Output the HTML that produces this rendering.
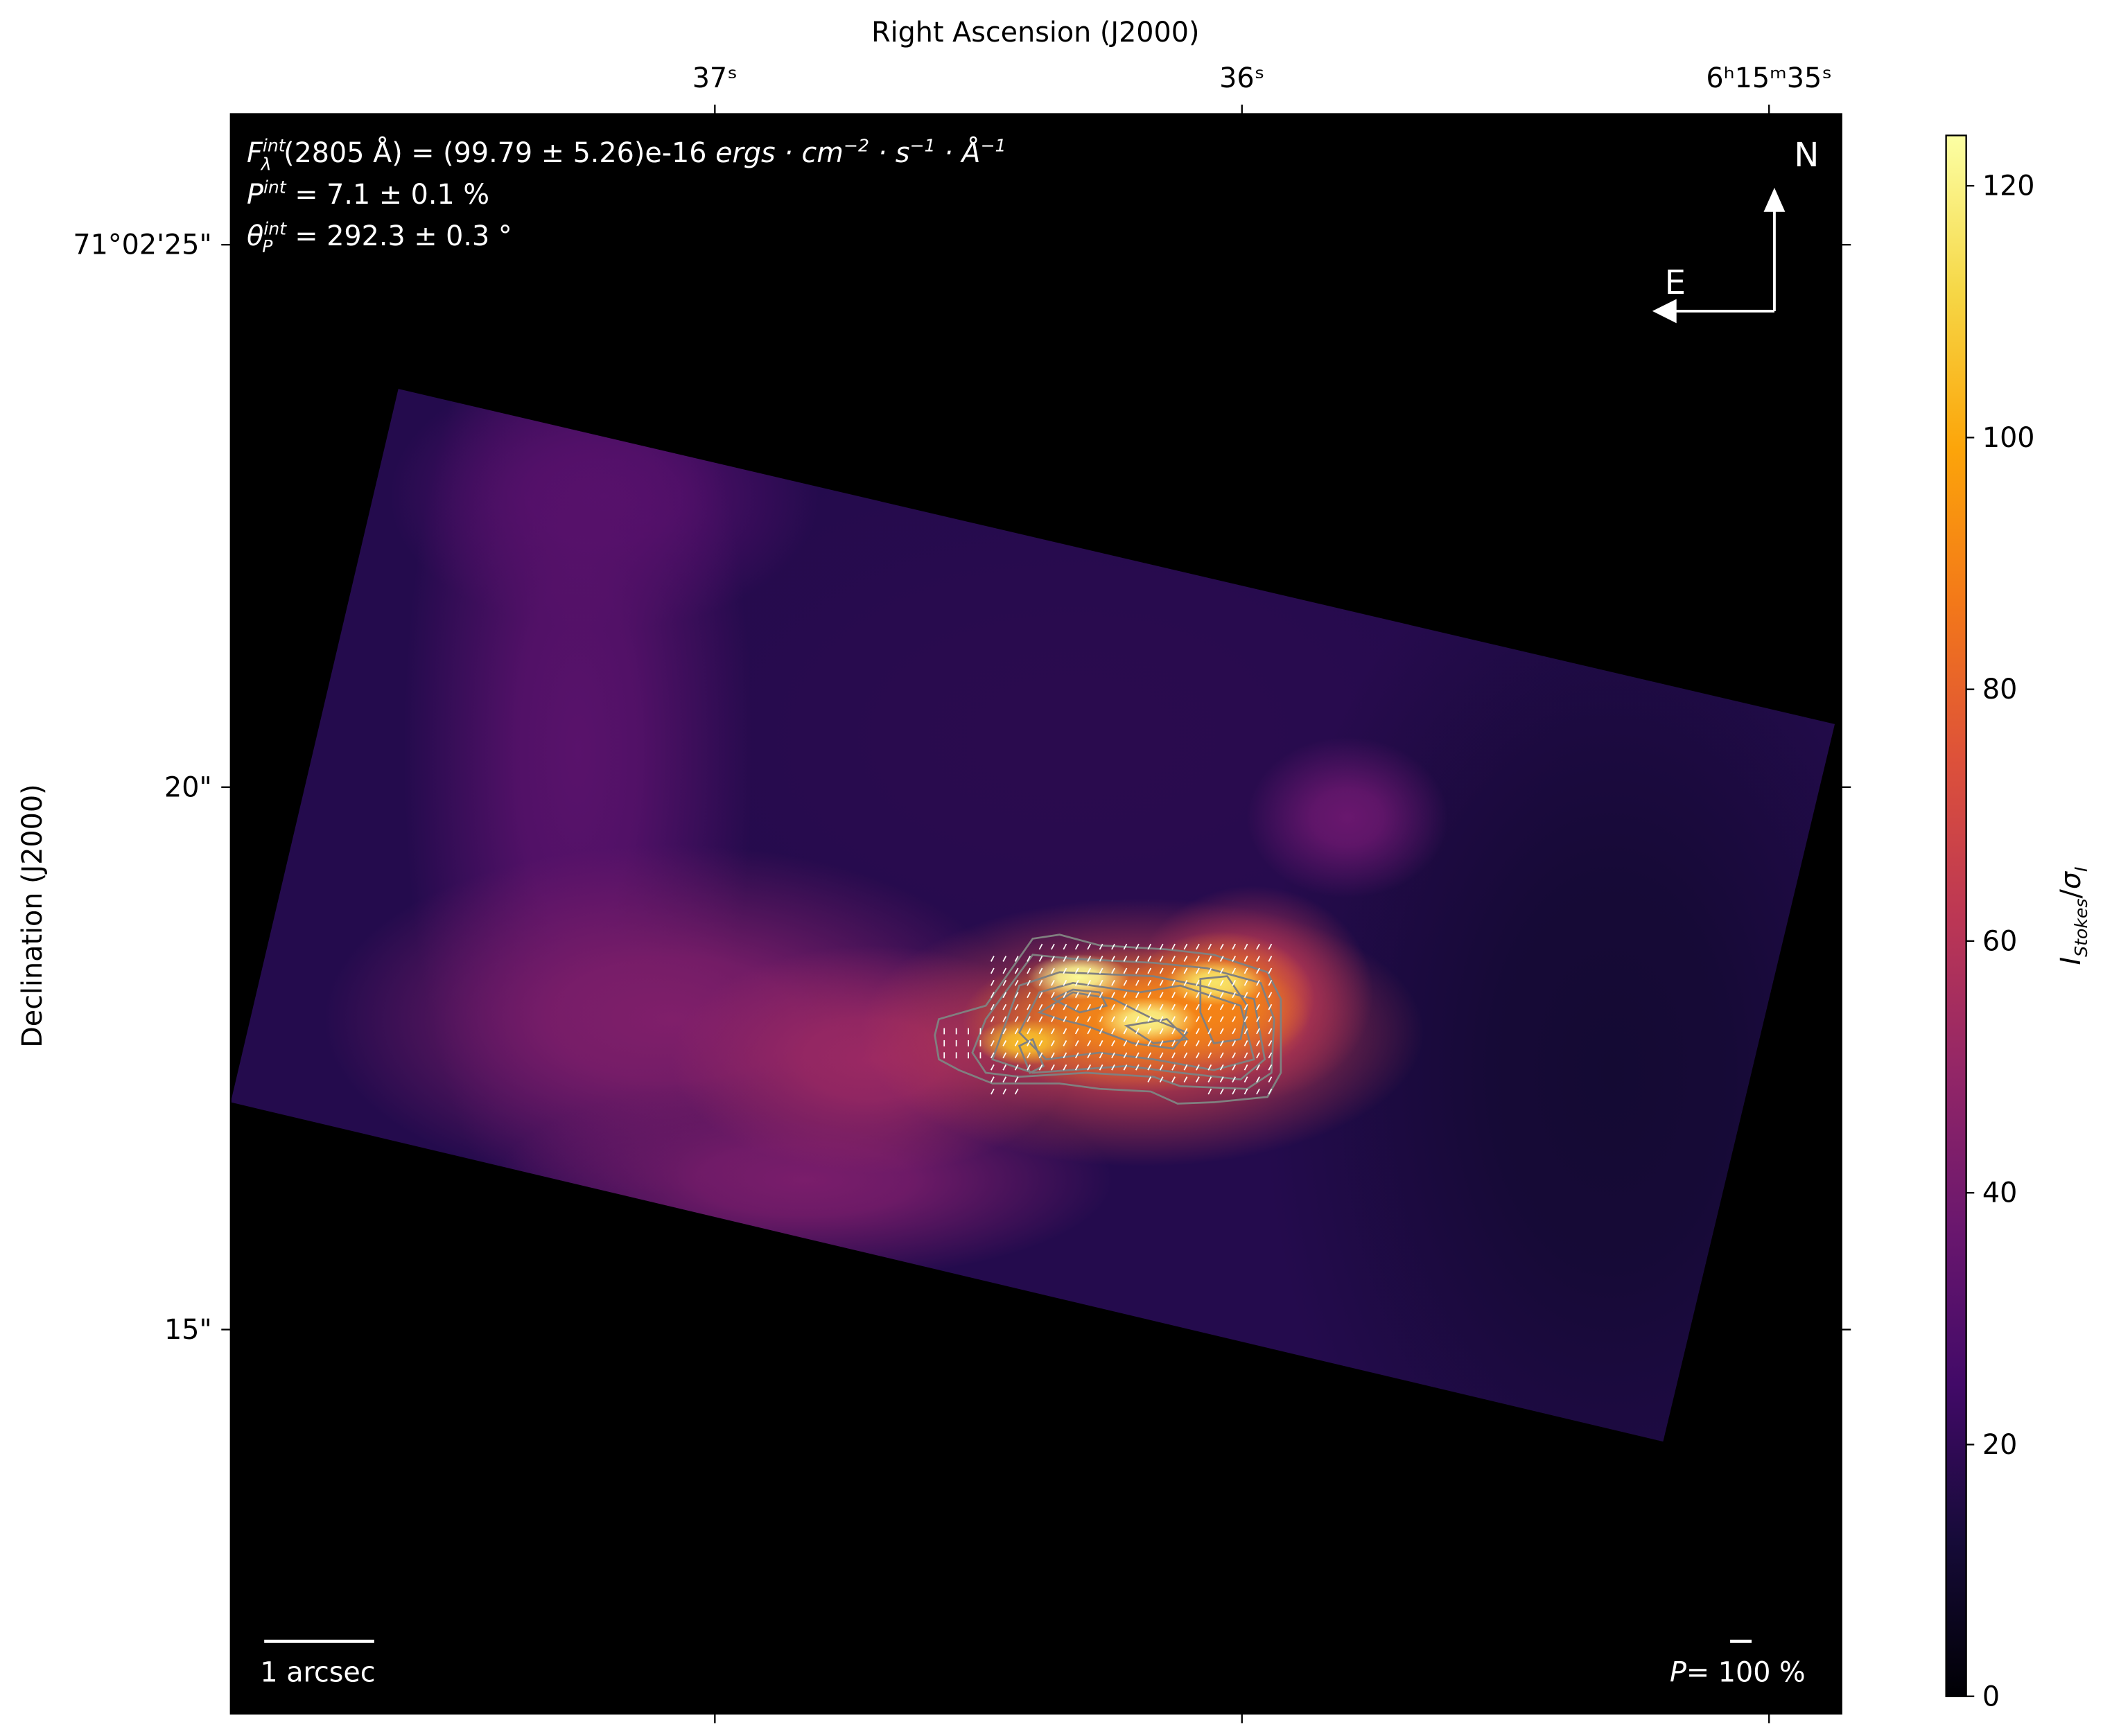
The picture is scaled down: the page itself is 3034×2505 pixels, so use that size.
<!DOCTYPE html>
<html><head><meta charset="utf-8"><style>
html,body{margin:0;padding:0;background:#fff;}
svg{display:block;}
text{font-family:"DejaVu Sans","Liberation Sans",sans-serif;}
</style></head><body>
<svg id="chart" width="3034" height="2505" viewBox="0 0 1568 1294.6" xmlns="http://www.w3.org/2000/svg">
<defs id="defs">
<linearGradient id="cmap" x1="0" y1="1" x2="0" y2="0">
<stop offset="0" stop-color="#000004"/><stop offset="0.1" stop-color="#160b39"/><stop offset="0.2" stop-color="#420a68"/><stop offset="0.3" stop-color="#6a176e"/><stop offset="0.4" stop-color="#932667"/><stop offset="0.5" stop-color="#bc3754"/><stop offset="0.6" stop-color="#dd513a"/><stop offset="0.7" stop-color="#f37819"/><stop offset="0.8" stop-color="#fca50a"/><stop offset="0.9" stop-color="#f6d746"/><stop offset="1" stop-color="#fcffa4"/>
</linearGradient>
<clipPath id="axclip"><rect x="172" y="85" width="1201" height="1193"/></clipPath>
<clipPath id="fov"><polygon points="297,290 1368,540 1240,1075 172,822"/></clipPath>
</defs>
<rect x="172" y="85" width="1201" height="1193" fill="#000000"/>
<g clip-path="url(#axclip)">
<polygon points="297,290 1368,540 1240,1075 172,822" fill="#240b4d"/>
<g id="blobs" clip-path="url(#fov)"></g>
<g id="contours" fill="none" stroke="#808080" stroke-width="1.4"></g>
<g id="vectors" stroke="#ffffff" stroke-width="0.9"></g>
</g>
<rect x="172" y="85" width="1201" height="1193" fill="none" stroke="#000" stroke-width="1.2"/>
<g id="ticks" stroke="#000" stroke-width="1.2"></g>
<g id="ticklabels" font-size="20.5" fill="#000"></g>
<text x="772" y="31" font-size="20.5" text-anchor="middle">Right Ascension (J2000)</text>
<text transform="translate(31,683) rotate(-90)" font-size="20.5" text-anchor="middle">Declination (J2000)</text>
<g fill="#fff" font-size="20.5">
<text x="184" y="121"><tspan font-style="italic">F</tspan><tspan font-size="13" dy="-8" font-style="italic">int</tspan><tspan font-size="13" dx="-18" dy="14" font-style="italic">λ</tspan><tspan dy="-6" dx="9">(2805 Å) = (99.79 ± 5.26)e-16 </tspan><tspan font-style="italic">ergs · cm</tspan><tspan font-size="13" dy="-8" font-style="italic">−2</tspan><tspan dy="8" font-style="italic"> · s</tspan><tspan font-size="13" dy="-8" font-style="italic">−1</tspan><tspan dy="8" font-style="italic"> · Å</tspan><tspan font-size="13" dy="-8" font-style="italic">−1</tspan></text>
<text x="184" y="152"><tspan font-style="italic">P</tspan><tspan font-size="13" dy="-8" font-style="italic">int</tspan><tspan dy="8"> = 7.1 ± 0.1 %</tspan></text>
<text x="184" y="183"><tspan font-style="italic">θ</tspan><tspan font-size="13" dy="-8" font-style="italic">int</tspan><tspan font-size="13" dx="-18" dy="13" font-style="italic">P</tspan><tspan dy="-5" dx="10"> = 292.3 ± 0.3 °</tspan></text>
<text x="1347" y="124" font-size="25" text-anchor="middle">N</text>
<text x="1249" y="219" font-size="25" text-anchor="middle">E</text>
<text x="194" y="1254">1 arcsec</text>
<text x="1245" y="1254"><tspan font-style="italic">P</tspan>= 100 %</text>
</g>
<g stroke="#fff" stroke-width="2" fill="#fff">
<line x1="1323" y1="232" x2="1323" y2="155"/><polygon points="1323,140 1315,158 1331,158" stroke="none"/>
<line x1="1323" y1="232" x2="1248" y2="232"/><polygon points="1232,232 1250,223 1250,241" stroke="none"/>
</g>
<line x1="197" y1="1224" x2="279" y2="1224" stroke="#fff" stroke-width="2.5"/>
<line x1="1290" y1="1224" x2="1306" y2="1224" stroke="#fff" stroke-width="2.5"/>
<rect x="1451" y="101" width="15" height="1164" fill="url(#cmap)" stroke="#000" stroke-width="1.2"/>
<g id="cbticks" font-size="20.5"></g>
<text transform="translate(1551,683) rotate(-90)" font-size="20.5" text-anchor="middle"><tspan font-style="italic">I</tspan><tspan font-size="13" dy="5" font-style="italic">Stokes</tspan><tspan dy="-5">/</tspan><tspan font-style="italic">σ</tspan><tspan font-size="13" dy="5" font-style="italic">I</tspan></text>
</svg>
<script>
const raTickLabels=["37ˢ","36ˢ","6ʰ15ᵐ35ˢ"];
const raTickValues=[37,36,35];
const decTickLabels=["71°02'25\"","20\"","15\""];
const decTickValues=[25,20,15];
const cbTickValues=[0,20,40,60,80,100,120];
const vmax=124;
// emission blobs: RA seconds, Dec arcsec, intensity, radii
const blobX=[36.32,35.30,37.21,37.26,37.08,36.83,36.70,35.80,36.19,35.98,36.20,36.04];
const blobY=[20.46,17.37,22.68,20.33,17.86,16.38,17.49,19.72,17.74,18.10,17.86,18.05];
const blobV=[18,11,30,32,44,42,52,37,66,62,92,90];
const blobRX=[380,260,160,130,260,230,150,75,210,90,130,70];
const blobRY=[230,420,100,380,130,75,85,60,100,80,55,50];
// bright core peaks
const coreX=[36.31,36.18,36.05,36.41];
const coreY=[18.25,17.85,18.2,17.65];
const coreV=[122,120,116,106];
const ns='http://www.w3.org/2000/svg';
const xs=v=>533+(37-v)*393;
const ys=v=>587-(v-20)*80.9;
const cbY=v=>1265-v*(1164/vmax);
const stops=[[0,'#000004'],[.1,'#160b39'],[.2,'#420a68'],[.3,'#6a176e'],[.4,'#932667'],[.5,'#bc3754'],[.6,'#dd513a'],[.7,'#f37819'],[.8,'#fca50a'],[.9,'#f6d746'],[1,'#fcffa4']];
function hex(h){return [1,3,5].map(i=>parseInt(h.substr(i,2),16));}
function cmap(v){let t=Math.max(0,Math.min(1,v/vmax));for(let i=1;i<stops.length;i++){if(t<=stops[i][0]){const a=stops[i-1],b=stops[i];const f=(t-a[0])/(b[0]-a[0]);const ca=hex(a[1]),cb=hex(b[1]);return 'rgb('+ca.map((c,k)=>Math.round(c+(cb[k]-c)*f)).join(',')+')';}}return stops[10][1];}
function el(tag,attrs,parent){const e=document.createElementNS(ns,tag);for(const k in attrs)e.setAttribute(k,attrs[k]);parent.appendChild(e);return e;}
const defs=document.getElementById('defs');
let gid=0;
function grad(color,core){const id='g'+(gid++);const g=el('radialGradient',{id:id},defs);
 el('stop',{offset:0,'stop-color':color,'stop-opacity':1},g);
 el('stop',{offset:core,'stop-color':color,'stop-opacity':0.85},g);
 el('stop',{offset:1,'stop-color':color,'stop-opacity':0},g);return 'url(#'+id+')';}
const blobs=document.getElementById('blobs');
blobV.forEach((v,i)=>{const e=el('ellipse',{cx:xs(blobX[i]),cy:ys(blobY[i]),rx:blobRX[i],ry:blobRY[i],fill:grad(cmap(v),0.35)},blobs);

});
coreX.forEach((x,i)=>{const e=el('ellipse',{cx:xs(x),cy:ys(coreY[i]),rx:38,ry:17,fill:grad(cmap(coreV[i]),0.4)},blobs);

});
const contourPaths=[
"M697,772 L700,760 L735,750 L770,700 L790,697 L820,705 L870,708 L905,712 L945,725 L955,745 L955,800 L945,818 L905,822 L878,823 L858,814 L820,812 L790,808 L740,808 L715,798 L700,790 Z",
"M725,785 L735,760 L770,712 L800,715 L860,718 L900,722 L940,733 L950,760 L948,800 L930,812 L880,810 L860,803 L810,800 L760,803 L735,800 Z",
"M740,790 L760,735 L790,725 L860,728 L895,735 L935,745 L943,790 L925,805 L880,800 L840,795 L770,800 Z",
"M760,770 L775,740 L800,733 L850,740 L880,735 L925,750 L935,790 L905,798 L860,790 L820,785 L780,790 Z",
"M775,755 L800,740 L830,745 L860,760 L885,770 L875,782 L845,778 L810,765 L790,760 Z",
"M895,730 L915,728 L930,750 L925,775 L905,778 L895,755 Z",
"M785,745 L800,738 L820,740 L825,750 L805,755 Z",
"M840,765 L870,760 L885,775 L860,778 Z",
"M760,780 L770,775 L778,795 L768,800 Z"];
const cg=document.getElementById('contours');
contourPaths.forEach(d=>{const p=el('path',{d:d},cg);

});
const vg=document.getElementById('vectors');
for(let x=704;x<=950;x+=9){for(let y=706;y<=815;y+=9){
 const inside=(x>735||(y>762&&y<792))&&!(x<770&&y<712)&&!(x>850&&x<900&&y>805)&&!(x>760&&x<850&&y>800);
 if(!inside)continue;
 const ang=x<740?90:62;const r=ang*Math.PI/180;const L=2.3;
 const l=el('line',{x1:x-L*Math.cos(r),y1:y+L*Math.sin(r),x2:x+L*Math.cos(r),y2:y-L*Math.sin(r)},vg);
 
 }}
const tg=document.getElementById('ticks'),lg=document.getElementById('ticklabels');
raTickValues.forEach((v,i)=>{const x=xs(v);
 const t1=el('line',{x1:x,y1:78,x2:x,y2:85},tg);
 const t2=el('line',{x1:x,y1:1278,x2:x,y2:1285},tg);
 const tx=el('text',{x:x,y:65,'text-anchor':'middle'},lg);tx.textContent=raTickLabels[i];
 
 });
decTickValues.forEach((v,i)=>{const y=ys(v);
 const t1=el('line',{x1:165,y1:y,x2:172,y2:y},tg);
 const t2=el('line',{x1:1373,y1:y,x2:1380,y2:y},tg);
 const tx=el('text',{x:158,y:y+7,'text-anchor':'end'},lg);tx.textContent=decTickLabels[i];
 
 });
const cbg=document.getElementById('cbticks');
cbTickValues.forEach(v=>{const y=cbY(v);
 const t=el('line',{x1:1466,y1:y,x2:1472,y2:y,stroke:'#000','stroke-width':1.2},cbg);
 
 
 const tx=el('text',{x:1478,y:y+7},cbg);tx.textContent=v;
 
 });
</script>
</body></html>
